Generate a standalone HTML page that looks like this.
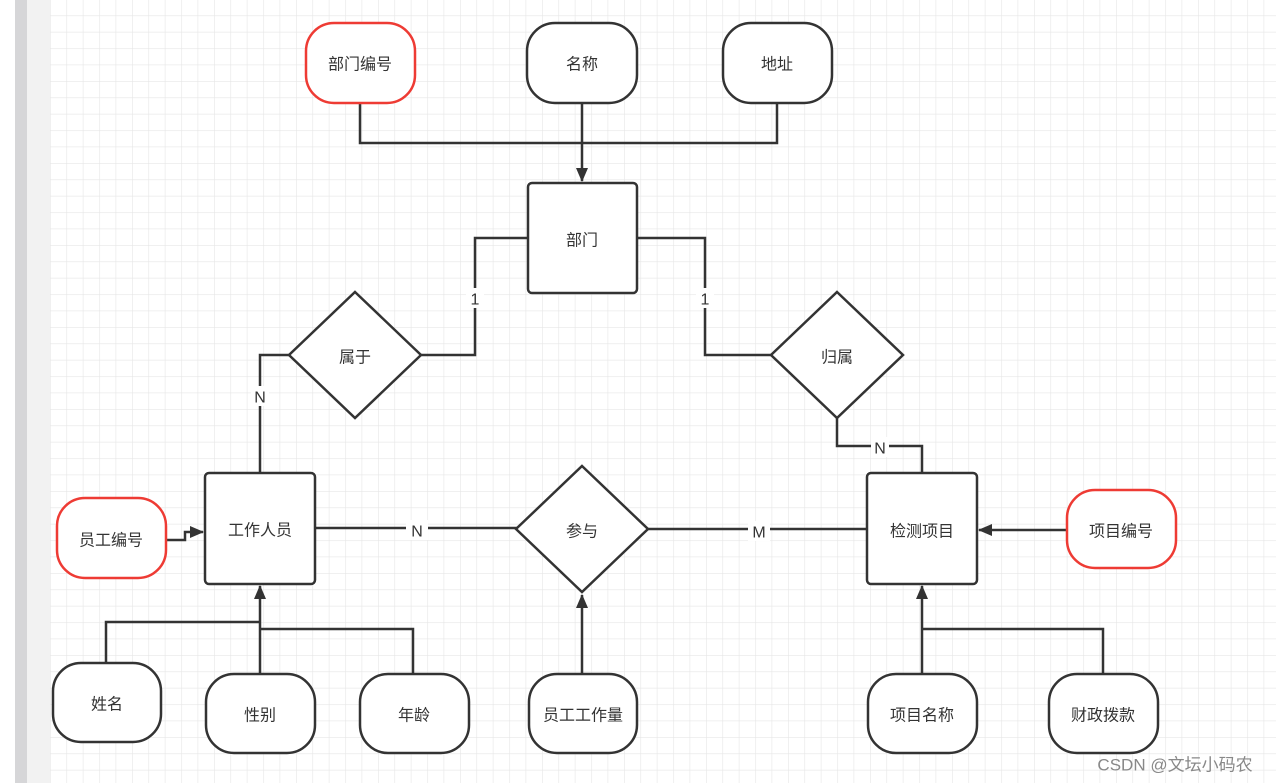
<!DOCTYPE html>
<html><head><meta charset="utf-8"><style>
html,body{margin:0;padding:0;width:1276px;height:783px;overflow:hidden;background:#fff}
svg{display:block}
text{font-family:"Liberation Sans","Noto Sans CJK SC",sans-serif;font-size:16px;fill:#333;text-anchor:middle;dominant-baseline:central}
</style></head><body>
<svg width="1276" height="783" xmlns="http://www.w3.org/2000/svg">
<defs>
<pattern id="g" x="50" y="-1" width="16.4" height="16.4" patternUnits="userSpaceOnUse">
<path d="M0 0V16.4M0 0H16.4" stroke="#e6e6e6" stroke-width="1.2" fill="none"/>
</pattern>
<marker id="b" markerWidth="14" markerHeight="12" refX="13" refY="6" orient="auto" markerUnits="userSpaceOnUse"><path d="M0 0L14 6L0 12z" fill="#333"/></marker>
</defs>
<rect x="15" y="0" width="12" height="783" fill="#d6d6d8"/>
<rect x="27" y="0" width="23" height="783" fill="#f2f2f2"/>
<rect x="50" y="0" width="1226" height="783" fill="url(#g)"/>
<g fill="none" stroke="#333" stroke-width="2.5">
<path d="M360 103V143H777V103"/>
<path d="M582 103V181" marker-end="url(#b)"/>
<path d="M528 238H475V355H421"/>
<path d="M637 238H705V355H771"/>
<path d="M260 473V355H290"/>
<path d="M837 418V446H922V473"/>
<path d="M315 528H517"/>
<path d="M648 529H867"/>
<path d="M166 540H185V532H203" marker-end="url(#b)"/>
<path d="M1067 530H979" marker-end="url(#b)"/>
<path d="M106 663V622H260"/>
<path d="M260 674V586" marker-end="url(#b)"/>
<path d="M260 629H413V674"/>
<path d="M582 674V595" marker-end="url(#b)"/>
<path d="M922 674V586" marker-end="url(#b)"/>
<path d="M922 629H1103V674"/>
</g>
<g fill="#fff" stroke="#333" stroke-width="2.5">
<rect x="306" y="23" width="109" height="80" rx="28" stroke="#ee3b34"/>
<rect x="527" y="23" width="110" height="80" rx="28"/>
<rect x="723" y="23" width="109" height="80" rx="28"/>
<rect x="528" y="183" width="109" height="110" rx="4"/>
<path d="M355 292L421 355L355 418L289 355Z"/>
<path d="M837 292L903 355L837 418L771 355Z"/>
<path d="M582 466L648 529L582 592L516 529Z"/>
<rect x="205" y="473" width="110" height="111" rx="4"/>
<rect x="867" y="473" width="110" height="111" rx="4"/>
<rect x="57" y="498" width="109" height="80" rx="28" stroke="#ee3b34"/>
<rect x="1067" y="490" width="109" height="78" rx="28" stroke="#ee3b34"/>
<rect x="53" y="663" width="108" height="79" rx="28"/>
<rect x="206" y="674" width="109" height="79" rx="28"/>
<rect x="360" y="674" width="109" height="79" rx="28"/>
<rect x="529" y="674" width="108" height="79" rx="28"/>
<rect x="868" y="674" width="109" height="79" rx="28"/>
<rect x="1049" y="674" width="109" height="79" rx="28"/>
</g>
<g fill="#fff"><rect x="466" y="288" width="18" height="20"/><rect x="696" y="288" width="18" height="20"/><rect x="251" y="386" width="18" height="20"/><rect x="871" y="437" width="18" height="20"/><rect x="406" y="520" width="22" height="20"/><rect x="748" y="521" width="22" height="20"/></g>
<g transform="translate(0,2)">
<text x="360" y="63">部门编号</text><text x="582" y="63">名称</text><text x="777" y="63">地址</text>
<text x="582" y="239">部门</text><text x="355" y="356">属于</text><text x="837" y="356">归属</text>
<text x="475" y="298">1</text><text x="705" y="298">1</text><text x="260" y="396">N</text><text x="880" y="447">N</text>
<text x="417" y="530">N</text><text x="759" y="531">M</text>
<text x="260" y="529">工作人员</text><text x="582" y="530">参与</text><text x="922" y="530">检测项目</text>
<text x="111" y="539">员工编号</text><text x="1121" y="530">项目编号</text>
<text x="107" y="703">姓名</text><text x="260" y="714">性别</text><text x="414" y="714">年龄</text>
<text x="583" y="714">员工工作量</text><text x="922" y="714">项目名称</text><text x="1103" y="714">财政拨款</text>
</g>
<text x="1175" y="765" style="font-size:17px;fill:#888">CSDN @文坛小码农</text>
</svg>
</body></html>
